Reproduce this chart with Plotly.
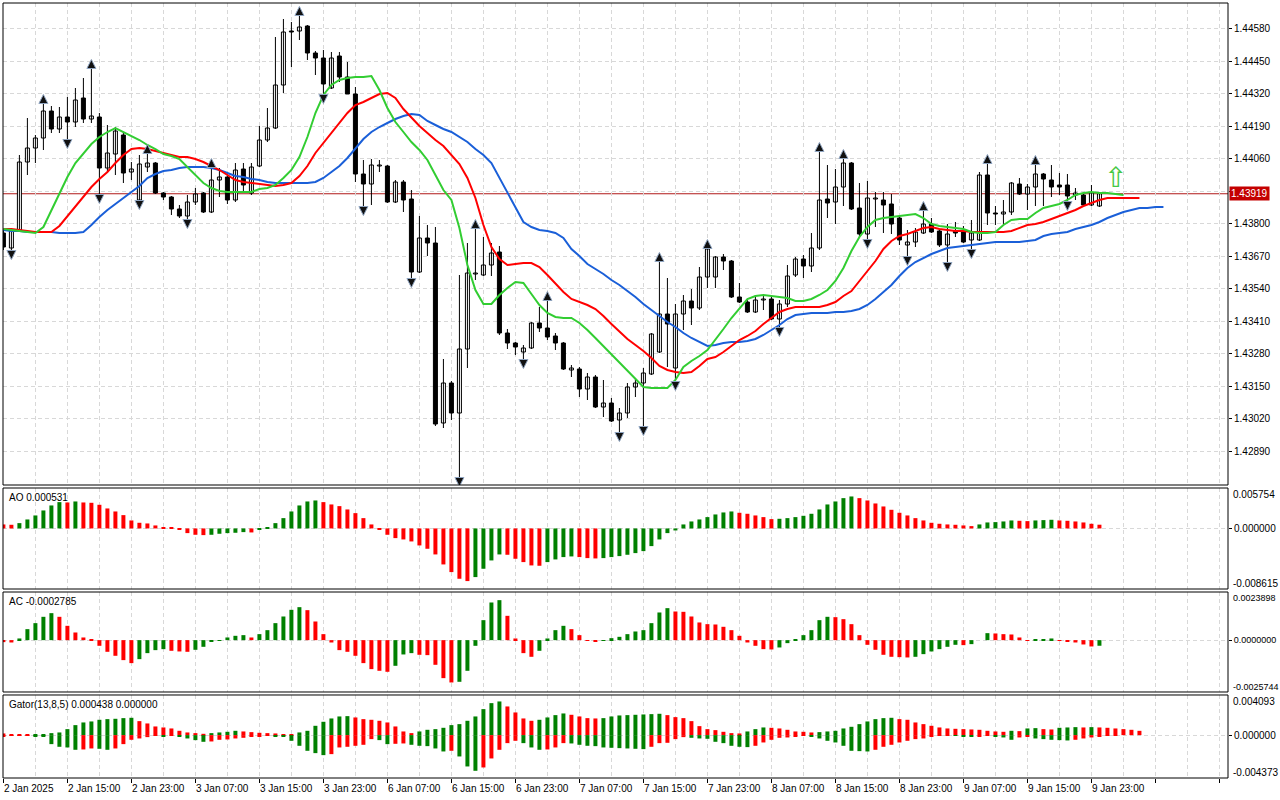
import plotly.graph_objects as go

# hourly EURUSD-style bars, 2 Jan 2025 07:00 .. 9 Jan 2025 23:00 (bar index on x)
TIME_LABELS = ["2 Jan 2025", "2 Jan 15:00", "2 Jan 23:00", "3 Jan 07:00", "3 Jan 15:00",
               "3 Jan 23:00", "6 Jan 07:00", "6 Jan 15:00", "6 Jan 23:00", "7 Jan 07:00",
               "7 Jan 15:00", "7 Jan 23:00", "8 Jan 07:00", "8 Jan 15:00", "8 Jan 23:00",
               "9 Jan 07:00", "9 Jan 15:00", "9 Jan 23:00"]
LABEL_STEP = 8

OPEN = [1.43762, 1.43702, 1.43774, 1.44046, 1.44102, 1.44142, 1.44250, 1.44178, 1.44226, 1.44206,
        1.44302, 1.44218, 1.44226, 1.44022, 1.44078, 1.44154, 1.44006, 1.43894, 1.44026, 1.44042,
        1.43922, 1.43906, 1.43858, 1.43830, 1.43886, 1.43922, 1.43846, 1.43974, 1.43986, 1.43894,
        1.44018, 1.43922, 1.44030, 1.44134, 1.44182, 1.44354, 1.44570, 1.44570, 1.44590, 1.44482,
        1.44462, 1.44342, 1.44470, 1.44386, 1.44318, 1.43998, 1.43958, 1.44030, 1.44030, 1.43886,
        1.43966, 1.43898, 1.43606, 1.43742, 1.43722, 1.43002, 1.43162, 1.43042, 1.43298, 1.43598,
        1.43594, 1.43634, 1.43686, 1.43362, 1.43322, 1.43286, 1.43302, 1.43402, 1.43382, 1.43350,
        1.43322, 1.43214, 1.43218, 1.43138, 1.43186, 1.43066, 1.43082, 1.43014, 1.43042, 1.43146,
        1.43162, 1.43198, 1.43286, 1.43438, 1.43222, 1.43438, 1.43490, 1.43462, 1.43586, 1.43586,
        1.43666, 1.43650, 1.43506, 1.43486, 1.43446, 1.43494, 1.43498, 1.43418, 1.43478, 1.43594,
        1.43658, 1.43630, 1.43702, 1.43898, 1.43886, 1.43946, 1.44042, 1.43862, 1.43758, 1.43898,
        1.43894, 1.43878, 1.43822, 1.43714, 1.43726, 1.43762, 1.43798, 1.43770, 1.43714, 1.43770,
        1.43770, 1.43734, 1.43734, 1.43994, 1.43842, 1.43838, 1.43846, 1.43958, 1.43918, 1.43946,
        1.43998, 1.43974, 1.43954, 1.43954, 1.43914, 1.43914, 1.43874, 1.43870]
HIGH = [1.43774, 1.43782, 1.44074, 1.44222, 1.44154, 1.44282, 1.44270, 1.44266, 1.44306, 1.44342,
        1.44382, 1.44422, 1.44242, 1.44194, 1.44186, 1.44166, 1.44046, 1.44074, 1.44082, 1.44046,
        1.43926, 1.43910, 1.43874, 1.43914, 1.43942, 1.43926, 1.44026, 1.44022, 1.44002, 1.44042,
        1.44042, 1.44042, 1.44190, 1.44262, 1.44546, 1.44618, 1.44606, 1.44634, 1.44594, 1.44490,
        1.44494, 1.44486, 1.44486, 1.44446, 1.44346, 1.44054, 1.44058, 1.44054, 1.44034, 1.43974,
        1.43974, 1.43934, 1.43830, 1.43794, 1.43786, 1.43258, 1.43170, 1.43594, 1.43722, 1.43782,
        1.43746, 1.43722, 1.43710, 1.43378, 1.43326, 1.43314, 1.43406, 1.43466, 1.43494, 1.43362,
        1.43326, 1.43234, 1.43226, 1.43202, 1.43194, 1.43174, 1.43102, 1.43062, 1.43162, 1.43182,
        1.43222, 1.43362, 1.43650, 1.43582, 1.43478, 1.43514, 1.43538, 1.43626, 1.43702, 1.43670,
        1.43678, 1.43654, 1.43562, 1.43494, 1.43514, 1.43514, 1.43514, 1.43494, 1.43634, 1.43666,
        1.43674, 1.43762, 1.44090, 1.44034, 1.44018, 1.44062, 1.44046, 1.43962, 1.43970, 1.43926,
        1.43926, 1.43918, 1.43826, 1.43774, 1.43782, 1.43854, 1.43822, 1.43774, 1.43798, 1.43806,
        1.43790, 1.43814, 1.44006, 1.44042, 1.43870, 1.43894, 1.43966, 1.43982, 1.43958, 1.44038,
        1.44002, 1.44034, 1.44002, 1.43998, 1.43942, 1.43922, 1.43954, 1.43922]
LOW = [1.43694, 1.43690, 1.43770, 1.43994, 1.44042, 1.44094, 1.44162, 1.44162, 1.44134, 1.44186,
       1.44202, 1.44202, 1.43914, 1.44002, 1.43994, 1.43962, 1.43974, 1.43890, 1.44006, 1.43918,
       1.43894, 1.43834, 1.43822, 1.43814, 1.43874, 1.43842, 1.43842, 1.43906, 1.43878, 1.43886,
       1.43922, 1.43914, 1.44026, 1.44126, 1.44178, 1.44322, 1.44426, 1.44534, 1.44454, 1.44394,
       1.44314, 1.44338, 1.44366, 1.44318, 1.43966, 1.43866, 1.43874, 1.44006, 1.43882, 1.43882,
       1.43846, 1.43578, 1.43602, 1.43670, 1.42990, 1.42982, 1.43014, 1.42782, 1.43222, 1.43574,
       1.43590, 1.43590, 1.43354, 1.43298, 1.43274, 1.43254, 1.43298, 1.43366, 1.43334, 1.43294,
       1.43214, 1.43186, 1.43106, 1.43094, 1.43062, 1.43026, 1.43006, 1.42962, 1.43022, 1.43106,
       1.42986, 1.43194, 1.43282, 1.43226, 1.43166, 1.43374, 1.43394, 1.43454, 1.43542, 1.43542,
       1.43614, 1.43502, 1.43482, 1.43442, 1.43442, 1.43454, 1.43414, 1.43382, 1.43466, 1.43586,
       1.43582, 1.43606, 1.43694, 1.43822, 1.43798, 1.43870, 1.43854, 1.43742, 1.43734, 1.43786,
       1.43762, 1.43758, 1.43714, 1.43666, 1.43706, 1.43758, 1.43762, 1.43706, 1.43642, 1.43746,
       1.43722, 1.43694, 1.43730, 1.43794, 1.43794, 1.43798, 1.43834, 1.43914, 1.43854, 1.43870,
       1.43870, 1.43906, 1.43914, 1.43886, 1.43894, 1.43870, 1.43870, 1.43866]
CLOSE = [1.43706, 1.43774, 1.44046, 1.44102, 1.44142, 1.44250, 1.44178, 1.44226, 1.44206, 1.44294,
         1.44218, 1.44230, 1.44022, 1.44082, 1.44170, 1.44002, 1.44018, 1.44038, 1.44042, 1.43922,
         1.43906, 1.43858, 1.43830, 1.43886, 1.43918, 1.43846, 1.43974, 1.43986, 1.43894, 1.44014,
         1.43954, 1.44026, 1.44134, 1.44182, 1.44354, 1.44566, 1.44566, 1.44586, 1.44482, 1.44462,
         1.44358, 1.44462, 1.44386, 1.44318, 1.43998, 1.43958, 1.44034, 1.44034, 1.43886, 1.43966,
         1.43894, 1.43606, 1.43742, 1.43722, 1.42998, 1.43162, 1.43042, 1.43298, 1.43602, 1.43602,
         1.43634, 1.43682, 1.43362, 1.43322, 1.43306, 1.43302, 1.43402, 1.43382, 1.43346, 1.43322,
         1.43218, 1.43222, 1.43138, 1.43186, 1.43066, 1.43082, 1.43010, 1.43042, 1.43146, 1.43162,
         1.43202, 1.43358, 1.43438, 1.43398, 1.43438, 1.43490, 1.43462, 1.43586, 1.43698, 1.43666,
         1.43650, 1.43506, 1.43486, 1.43446, 1.43494, 1.43498, 1.43418, 1.43478, 1.43590, 1.43658,
         1.43630, 1.43702, 1.43894, 1.43882, 1.43946, 1.44042, 1.43858, 1.43758, 1.43902, 1.43902,
         1.43874, 1.43798, 1.43734, 1.43726, 1.43766, 1.43798, 1.43766, 1.43714, 1.43758, 1.43762,
         1.43726, 1.43762, 1.43994, 1.43842, 1.43838, 1.43846, 1.43962, 1.43918, 1.43946, 1.43998,
         1.43978, 1.43946, 1.43946, 1.43910, 1.43922, 1.43874, 1.43922, 1.43919]

# Alligator lines as drawn (already shifted forward 8 / 5 / 3 bars)
JAW = [1.43774, 1.43770, 1.43770, 1.43766, 1.43766, 1.43766, 1.43766, 1.43762, 1.43762, 1.43762,
       1.43766, 1.43794, 1.43826, 1.43854, 1.43878, 1.43902, 1.43926, 1.43950, 1.43982, 1.43998,
       1.44010, 1.44014, 1.44022, 1.44026, 1.44026, 1.44026, 1.44022, 1.44014, 1.44002, 1.43990,
       1.43986, 1.43978, 1.43974, 1.43966, 1.43962, 1.43962, 1.43962, 1.43962, 1.43962, 1.43966,
       1.43982, 1.44006, 1.44030, 1.44062, 1.44102, 1.44138, 1.44166, 1.44186, 1.44202, 1.44218,
       1.44230, 1.44238, 1.44234, 1.44210, 1.44194, 1.44178, 1.44166, 1.44146, 1.44126, 1.44098,
       1.44074, 1.44042, 1.43982, 1.43922, 1.43862, 1.43806, 1.43786, 1.43774, 1.43770, 1.43762,
       1.43742, 1.43698, 1.43670, 1.43638, 1.43618, 1.43598, 1.43574, 1.43554, 1.43530, 1.43506,
       1.43478, 1.43454, 1.43430, 1.43406, 1.43386, 1.43362, 1.43342, 1.43326, 1.43310, 1.43314,
       1.43322, 1.43326, 1.43326, 1.43330, 1.43338, 1.43354, 1.43374, 1.43394, 1.43418, 1.43434,
       1.43438, 1.43442, 1.43442, 1.43442, 1.43446, 1.43446, 1.43450, 1.43458, 1.43474, 1.43498,
       1.43526, 1.43554, 1.43590, 1.43622, 1.43646, 1.43662, 1.43678, 1.43690, 1.43702, 1.43706,
       1.43710, 1.43714, 1.43718, 1.43722, 1.43726, 1.43726, 1.43726, 1.43726, 1.43730, 1.43734,
       1.43750, 1.43758, 1.43762, 1.43766, 1.43778, 1.43786, 1.43794, 1.43806, 1.43822, 1.43834,
       1.43846, 1.43854, 1.43862, 1.43862, 1.43866, 1.43866]
TEETH = [1.43778, 1.43778, 1.43774, 1.43770, 1.43766, 1.43766, 1.43766, 1.43790, 1.43830, 1.43870,
         1.43910, 1.43946, 1.43978, 1.44006, 1.44042, 1.44074, 1.44098, 1.44102, 1.44098, 1.44090,
         1.44082, 1.44074, 1.44066, 1.44066, 1.44058, 1.44046, 1.44030, 1.44014, 1.43994, 1.43974,
         1.43966, 1.43962, 1.43958, 1.43954, 1.43950, 1.43954, 1.43962, 1.43990, 1.44030, 1.44082,
         1.44122, 1.44166, 1.44206, 1.44242, 1.44274, 1.44286, 1.44302, 1.44318, 1.44322, 1.44302,
         1.44258, 1.44222, 1.44190, 1.44162, 1.44134, 1.44110, 1.44074, 1.44038, 1.43982, 1.43902,
         1.43794, 1.43706, 1.43658, 1.43634, 1.43638, 1.43642, 1.43642, 1.43626, 1.43594, 1.43558,
         1.43526, 1.43498, 1.43486, 1.43474, 1.43458, 1.43430, 1.43398, 1.43366, 1.43338, 1.43314,
         1.43290, 1.43262, 1.43230, 1.43214, 1.43206, 1.43202, 1.43206, 1.43230, 1.43258, 1.43266,
         1.43286, 1.43310, 1.43334, 1.43350, 1.43370, 1.43398, 1.43422, 1.43446, 1.43458, 1.43466,
         1.43466, 1.43466, 1.43466, 1.43474, 1.43486, 1.43510, 1.43530, 1.43570, 1.43610, 1.43650,
         1.43698, 1.43730, 1.43750, 1.43758, 1.43770, 1.43782, 1.43786, 1.43778, 1.43774, 1.43770,
         1.43770, 1.43766, 1.43766, 1.43766, 1.43766, 1.43766, 1.43770, 1.43782, 1.43794, 1.43798,
         1.43806, 1.43818, 1.43830, 1.43842, 1.43854, 1.43870, 1.43882, 1.43894, 1.43902, 1.43902,
         1.43902, 1.43902, 1.43902]
LIPS = [1.43778, 1.43774, 1.43770, 1.43766, 1.43762, 1.43786, 1.43854, 1.43922, 1.43986, 1.44042,
        1.44082, 1.44118, 1.44146, 1.44166, 1.44182, 1.44166, 1.44150, 1.44134, 1.44114, 1.44098,
        1.44078, 1.44070, 1.44058, 1.44026, 1.43994, 1.43962, 1.43942, 1.43930, 1.43926, 1.43926,
        1.43926, 1.43926, 1.43938, 1.43942, 1.43954, 1.43982, 1.44014, 1.44066, 1.44146, 1.44242,
        1.44314, 1.44354, 1.44374, 1.44382, 1.44386, 1.44386, 1.44390, 1.44334, 1.44262, 1.44206,
        1.44166, 1.44126, 1.44094, 1.44054, 1.43994, 1.43934, 1.43894, 1.43782, 1.43634, 1.43534,
        1.43478, 1.43478, 1.43514, 1.43542, 1.43566, 1.43562, 1.43518, 1.43474, 1.43442, 1.43426,
        1.43422, 1.43422, 1.43402, 1.43374, 1.43342, 1.43310, 1.43278, 1.43242, 1.43210, 1.43178,
        1.43146, 1.43142, 1.43142, 1.43142, 1.43174, 1.43226, 1.43250, 1.43270, 1.43294, 1.43334,
        1.43378, 1.43422, 1.43462, 1.43498, 1.43510, 1.43514, 1.43510, 1.43506, 1.43502, 1.43490,
        1.43490, 1.43498, 1.43514, 1.43534, 1.43570, 1.43622, 1.43690, 1.43746, 1.43786, 1.43814,
        1.43822, 1.43826, 1.43830, 1.43834, 1.43838, 1.43822, 1.43798, 1.43790, 1.43786, 1.43782,
        1.43778, 1.43766, 1.43762, 1.43762, 1.43766, 1.43794, 1.43814, 1.43818, 1.43818, 1.43842,
        1.43862, 1.43870, 1.43878, 1.43894, 1.43914, 1.43922, 1.43926, 1.43922, 1.43922, 1.43918,
        1.43914]

FRACTAL_UP = [5, 11, 18, 26, 37, 59, 68, 82, 88, 102, 105, 115, 123, 129]
FRACTAL_DOWN = [1, 8, 12, 17, 23, 40, 45, 51, 57, 65, 77, 80, 84, 97, 108, 113, 118, 121, 133]

AO = [0.000569, 0.000521, 0.000758, 0.001280, 0.001849, 0.002560, 0.003271, 0.003745, 0.003697, 0.003839,
      0.003697, 0.003650, 0.003365, 0.002844, 0.002417, 0.001896, 0.001138, 0.000806, 0.000711, 0.000427,
      0.000190, 0.000095, -0.000190, -0.000664, -0.000901, -0.000948, -0.000901, -0.000758, -0.000664, -0.000616,
      -0.000521, -0.000569, -0.000190, 0.000095, 0.000758, 0.001469, 0.002417, 0.003271, 0.003839, 0.003982,
      0.003745, 0.003413, 0.003176, 0.002702, 0.002180, 0.001469, 0.000569, -0.000190, -0.000901, -0.001375,
      -0.001564, -0.001849, -0.002417, -0.002891, -0.003697, -0.005119, -0.006209, -0.007157, -0.007489, -0.006920,
      -0.005735, -0.004550, -0.003697, -0.003745, -0.004313, -0.004787, -0.005261, -0.005309, -0.004787, -0.004408,
      -0.004076, -0.003982, -0.004076, -0.004219, -0.004266, -0.004219, -0.004076, -0.003934, -0.003745, -0.003508,
      -0.003223, -0.002512, -0.001564, -0.000664, -0.000284, 0.000569, 0.000995, 0.001280, 0.001612, 0.001991,
      0.002275, 0.002417, 0.002228, 0.002086, 0.001849, 0.001612, 0.001327, 0.001375, 0.001469, 0.001612,
      0.001801, 0.002086, 0.002702, 0.003413, 0.003839, 0.004313, 0.004550, 0.004313, 0.003982, 0.003555,
      0.003128, 0.002654, 0.002228, 0.001849, 0.001469, 0.001138, 0.000806, 0.000664, 0.000569, 0.000521,
      0.000427, 0.000332, 0.000569, 0.000853, 0.000901, 0.000995, 0.001138, 0.001090, 0.001043, 0.001138,
      0.001185, 0.001232, 0.001138, 0.001090, 0.000995, 0.000853, 0.000664, 0.000531]
AC = [-0.000099, -0.000116, 0.000083, 0.000546, 0.000844, 0.001158, 0.001340, 0.001158, 0.000711, 0.000380,
      0.000132, 0.000017, -0.000281, -0.000579, -0.000777, -0.000992, -0.001141, -0.000943, -0.000645, -0.000496,
      -0.000447, -0.000529, -0.000562, -0.000579, -0.000480, -0.000331, -0.000066, -0.000017, 0.000132, 0.000215,
      0.000248, 0.000132, 0.000298, 0.000496, 0.000844, 0.001174, 0.001505, 0.001637, 0.001489, 0.000926,
      0.000298, -0.000116, -0.000496, -0.000579, -0.000777, -0.001141, -0.001439, -0.001522, -0.001571, -0.001274,
      -0.000711, -0.000645, -0.000728, -0.000744, -0.001224, -0.001886, -0.002101, -0.002068, -0.001522, -0.000281,
      0.000992, 0.001869, 0.001985, 0.001207, 0.000083, -0.000645, -0.000827, -0.000529, 0.000083, 0.000496,
      0.000711, 0.000546, 0.000248, -0.000033, -0.000083, -0.000033, 0.000099, 0.000165, 0.000298, 0.000430,
      0.000496, 0.000844, 0.001373, 0.001588, 0.001422, 0.001406, 0.001174, 0.000877, 0.000794, 0.000777,
      0.000662, 0.000496, 0.000215, -0.000116, -0.000281, -0.000447, -0.000463, -0.000364, -0.000149, 0.000017,
      0.000248, 0.000496, 0.000992, 0.001158, 0.001141, 0.001042, 0.000794, 0.000248, -0.000232, -0.000480,
      -0.000728, -0.000827, -0.000844, -0.000860, -0.000827, -0.000695, -0.000562, -0.000447, -0.000331, -0.000232,
      -0.000248, -0.000198, 0.000000, 0.000347, 0.000331, 0.000298, 0.000281, 0.000132, -0.000033, 0.000017,
      0.000050, 0.000083, -0.000033, -0.000050, -0.000116, -0.000215, -0.000314, -0.0002785]
GATOR_UP = [0.000170, 0.000102, 0.000068, 0.000034, 0.000068, 0.000102, 0.000204, 0.000272, 0.000612, 0.001020,
            0.001292, 0.001394, 0.001564, 0.001632, 0.001666, 0.001734, 0.001768, 0.001428, 0.001190, 0.000884,
            0.000782, 0.000680, 0.000442, 0.000272, 0.000204, 0.000136, 0.000204, 0.000272, 0.000340, 0.000442,
            0.000374, 0.000306, 0.000238, 0.000204, 0.000170, 0.000102, 0.000068, 0.000272, 0.000442, 0.000952,
            0.001360, 0.001700, 0.001904, 0.001938, 0.001802, 0.001632, 0.001564, 0.001462, 0.001292, 0.000884,
            0.000374, 0.000204, 0.000374, 0.000544, 0.000612, 0.000748, 0.001020, 0.001122, 0.001462, 0.001904,
            0.002652, 0.003264, 0.003434, 0.002924, 0.002312, 0.001700, 0.001462, 0.001564, 0.001802, 0.002040,
            0.002210, 0.002074, 0.001904, 0.001734, 0.001700, 0.001734, 0.001904, 0.002006, 0.002040, 0.002074,
            0.002108, 0.002142, 0.002176, 0.002040, 0.001836, 0.001734, 0.001428, 0.000918, 0.000612, 0.000510,
            0.000340, 0.000204, 0.000170, 0.000374, 0.000612, 0.000782, 0.000748, 0.000680, 0.000544, 0.000374,
            0.000340, 0.000272, 0.000306, 0.000374, 0.000442, 0.000680, 0.000850, 0.001122, 0.001394, 0.001632,
            0.001734, 0.001768, 0.001632, 0.001564, 0.001292, 0.001122, 0.000952, 0.000782, 0.000680, 0.000646,
            0.000612, 0.000578, 0.000544, 0.000442, 0.000374, 0.000340, 0.000442, 0.000408, 0.000680, 0.000714,
            0.000612, 0.000578, 0.000748, 0.000782, 0.000816, 0.000782, 0.000816, 0.000782, 0.000748, 0.000680,
            0.000612, 0.000544, 0.000438]
GATOR_DOWN = [-0.000102, -0.000068, -0.000034, -0.000034, -0.000136, -0.000170, -0.000918, -0.001190, -0.001258, -0.001496,
              -0.001462, -0.001360, -0.001394, -0.001496, -0.001360, -0.000918, -0.000476, -0.000340, -0.000204, -0.000068,
              -0.000102, -0.000068, -0.000136, -0.000340, -0.000510, -0.000680, -0.000646, -0.000476, -0.000442, -0.000340,
              -0.000272, -0.000170, -0.000136, -0.000068, -0.000136, -0.000170, -0.000578, -0.001088, -0.001598, -0.001836,
              -0.002040, -0.001938, -0.001258, -0.001190, -0.001088, -0.000986, -0.000408, -0.000510, -0.000918, -0.000884,
              -0.000850, -0.000986, -0.001088, -0.001122, -0.001360, -0.001666, -0.001598, -0.002176, -0.003196, -0.003638,
              -0.003298, -0.002380, -0.001496, -0.000816, -0.000578, -0.000816, -0.001258, -0.001496, -0.001462, -0.001258,
              -0.000816, -0.000850, -0.000986, -0.001088, -0.001122, -0.001258, -0.001292, -0.001326, -0.001360, -0.001394,
              -0.001428, -0.001190, -0.000816, -0.000782, -0.000408, -0.000204, -0.000272, -0.000340, -0.000374, -0.000680,
              -0.000816, -0.001088, -0.001190, -0.001224, -0.001088, -0.000748, -0.000476, -0.000272, -0.000238, -0.000136,
              -0.000068, -0.000170, -0.000340, -0.000578, -0.000748, -0.001088, -0.001598, -0.001632, -0.001666, -0.001496,
              -0.001190, -0.000986, -0.000748, -0.000578, -0.000408, -0.000340, -0.000102, -0.000068, -0.000034, -0.000068,
              -0.000102, -0.000136, -0.000102, -0.000068, -0.000170, -0.000238, -0.000476, -0.000238, -0.000136, -0.000340,
              -0.000408, -0.000476, -0.000510, -0.000544, -0.000476, -0.000340, -0.000238, -0.000136, -0.000068, -0.000034,
              0.0]

LAST_PRICE = 1.43919
SIGNAL_BAR = 139
SIGNAL_PRICE = 1.43986
PRICE_TICKS = [1.44580, 1.44450, 1.44320, 1.44190, 1.44060, 1.43930, 1.43800, 1.43670,
               1.43540, 1.43410, 1.43280, 1.43150, 1.43020, 1.42890]
PRICE_RANGE = [1.42754, 1.44682]
AO_RANGE = [-0.008615, 0.005754]
AC_RANGE = [-0.0025744, 0.0023898]
GATOR_RANGE = [-0.004373, 0.004093]

X_RANGE = [-0.05, 153.07]
GRID = "#d8d8d8"
DASH = "4px,3px"
UP_COL = "#008000"
DOWN_COL = "#ff0000"
FONT = "Liberation Sans"


def rising(values, magnitude=False):
    cols = []
    for i, v in enumerate(values):
        prev = values[i - 1] if i else v
        cur, ref = (abs(v), abs(prev)) if magnitude else (v, prev)
        cols.append(UP_COL if i and cur > ref else DOWN_COL)
    return cols


fig = go.Figure()
bars = list(range(len(OPEN)))

# candle wicks
wx, wy = [], []
for i in bars:
    wx += [i, i, None]
    wy += [LOW[i], HIGH[i], None]
fig.add_trace(go.Scatter(x=wx, y=wy, mode="lines", line=dict(color="black", width=1),
                         hoverinfo="skip"))

# candle bodies (doji get a hairline body)
body_base = [min(o, c) for o, c in zip(OPEN, CLOSE)]
body_len = [max(abs(c - o), 0.000012) for o, c in zip(OPEN, CLOSE)]
body_fill = ["white" if c >= o else "black" for o, c in zip(OPEN, CLOSE)]
fig.add_trace(go.Bar(x=bars, y=body_len, base=body_base, width=0.5,
                     marker=dict(color=body_fill, line=dict(color="black", width=1)),
                     hoverinfo="skip"))

for series, col in [(JAW, "#1a5fd8"), (TEETH, "#ff0000"), (LIPS, "#32cd32")]:
    fig.add_trace(go.Scatter(x=list(range(len(series))), y=series, mode="lines",
                             line=dict(color=col, width=2), hoverinfo="skip"))

gap = 0.00034
fractal_marker = dict(size=9, color="#111111", line=dict(color="#8fa4c0", width=1))
fig.add_trace(go.Scatter(x=FRACTAL_UP, y=[HIGH[i] + gap for i in FRACTAL_UP], mode="markers",
                         marker=dict(symbol="arrow-up", **fractal_marker), hoverinfo="skip"))
fig.add_trace(go.Scatter(x=FRACTAL_DOWN, y=[LOW[i] - gap for i in FRACTAL_DOWN], mode="markers",
                         marker=dict(symbol="arrow-down", **fractal_marker), hoverinfo="skip"))

# oscillators
fig.add_trace(go.Bar(x=bars, y=AO, width=0.5, marker=dict(color=rising(AO), line=dict(width=0)),
                     xaxis="x2", yaxis="y2", hoverinfo="skip"))
fig.add_trace(go.Bar(x=bars, y=AC, width=0.5, marker=dict(color=rising(AC), line=dict(width=0)),
                     xaxis="x3", yaxis="y3", hoverinfo="skip"))
fig.add_trace(go.Bar(x=list(range(len(GATOR_UP))), y=GATOR_UP, width=0.5,
                     marker=dict(color=rising(GATOR_UP), line=dict(width=0)),
                     xaxis="x4", yaxis="y4", hoverinfo="skip"))
fig.add_trace(go.Bar(x=list(range(len(GATOR_DOWN))), y=GATOR_DOWN, width=0.5,
                     marker=dict(color=rising(GATOR_DOWN, magnitude=True), line=dict(width=0)),
                     xaxis="x4", yaxis="y4", hoverinfo="skip"))


def time_axis(anchor, ticks=""):
    return dict(anchor=anchor, range=X_RANGE, tickmode="linear", tick0=0, dtick=LABEL_STEP,
                showticklabels=False, ticks=ticks, ticklen=4, tickcolor="black",
                showgrid=True, gridcolor=GRID, griddash=DASH,
                minor=dict(tick0=0, dtick=4, showgrid=True, gridcolor=GRID, griddash=DASH),
                zeroline=False, showline=False, fixedrange=True)


def value_axis(anchor, domain, rng, zero_text, size=10):
    return dict(anchor=anchor, domain=domain, range=rng, side="right", tickvals=[0],
                ticktext=[zero_text], ticks="outside", ticklen=3, tickcolor="black",
                tickfont=dict(size=size), showgrid=True, gridcolor=GRID, griddash=DASH,
                zeroline=False, fixedrange=True)


# the last-price box covers the nearest price label, as in the terminal
hidden = min(PRICE_TICKS, key=lambda t: abs(t - LAST_PRICE))
price_text = ["" if t == hidden else f"{t:.5f}" for t in PRICE_TICKS]

D_MAIN = [0.37806, 1.0]
D_AO = [0.24387, 0.37419]
D_AC = [0.11097, 0.24]
D_GATOR = [0.0, 0.10710]

fig.update_layout(
    width=1280, height=800, margin=dict(l=3, r=52, t=3, b=22, autoexpand=False),
    paper_bgcolor="white", plot_bgcolor="white", showlegend=False,
    barmode="overlay", hovermode=False,
    font=dict(family=FONT, size=10, color="black"),
    xaxis=time_axis("y"), xaxis2=time_axis("y2"), xaxis3=time_axis("y3"),
    xaxis4=time_axis("y4", ticks="outside"),
    yaxis=dict(anchor="x", domain=D_MAIN, range=PRICE_RANGE, side="right",
               tickvals=PRICE_TICKS, ticktext=price_text, ticks="outside", ticklen=3,
               tickcolor="black", showgrid=True, gridcolor=GRID, griddash=DASH,
               zeroline=False, fixedrange=True),
    yaxis2=value_axis("x2", D_AO, AO_RANGE, "0.000000"),
    yaxis3=value_axis("x3", D_AC, AC_RANGE, "0.0000000", size=9),
    yaxis4=value_axis("x4", D_GATOR, GATOR_RANGE, "0.000000"),
)

# panel frames and last-price line
for yr in ["y", "y2", "y3", "y4"]:
    fig.add_shape(type="rect", xref="paper", yref=yr + " domain", x0=0, x1=1, y0=0, y1=1,
                  line=dict(color="black", width=1))
fig.add_shape(type="line", xref="paper", yref="y", x0=0, x1=1, y0=LAST_PRICE, y1=LAST_PRICE,
              line=dict(color="#b01818", width=1), layer="below")

ann = []
ann.append(dict(xref="paper", yref="y", x=1, y=LAST_PRICE, xanchor="left", yanchor="middle",
                xshift=1, text=f"{LAST_PRICE:.5f}", showarrow=False, bgcolor="#c40000",
                borderpad=1, font=dict(color="white", size=10, family=FONT)))
ann.append(dict(xref="x", yref="y", x=SIGNAL_BAR, y=SIGNAL_PRICE, text="\u21e7", showarrow=False,
                font=dict(color="#44c844", size=28, family="DejaVu Sans")))

titles = [("y2", f"AO {AO[-1]:.6f}", AO_RANGE, "{:.6f}", 10),
          ("y3", f"AC {AC[-1]:.7f}", AC_RANGE, "{:.7f}", 9),
          ("y4", f"Gator(13,8,5) {GATOR_UP[-1]:.6f} {GATOR_DOWN[-1]:.6f}", GATOR_RANGE, "{:.6f}", 10)]
for yr, title, rng, fmt, size in titles:
    ann.append(dict(xref="paper", yref=yr + " domain", x=0, y=1, xanchor="left", yanchor="top",
                    xshift=4, yshift=-2, text=title, showarrow=False))
    ann.append(dict(xref="paper", yref=yr + " domain", x=1, y=1, xanchor="left", yanchor="top",
                    xshift=3, yshift=1, text=fmt.format(rng[1]), showarrow=False,
                    font=dict(size=size)))
    ann.append(dict(xref="paper", yref=yr + " domain", x=1, y=0, xanchor="left", yanchor="bottom",
                    xshift=3, yshift=-2, text=fmt.format(rng[0]), showarrow=False,
                    font=dict(size=size)))

for k, label in enumerate(TIME_LABELS):
    ann.append(dict(xref="x4", yref="paper", x=k * LABEL_STEP, y=0, xanchor="left",
                    yanchor="top", yshift=-3, xshift=-1, text=label, showarrow=False))

fig.update_layout(annotations=ann)
# page body margin would otherwise offset the 1280x800 figure inside the window
fig.write_html("out.html", config={"displayModeBar": False},
               post_script="document.body.style.margin='0';")
